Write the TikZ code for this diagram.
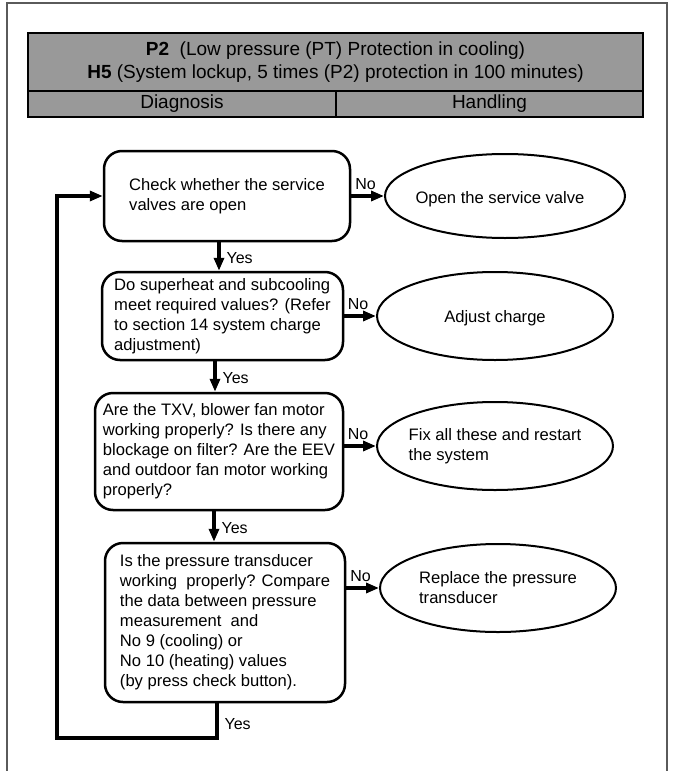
\documentclass[tikz,border=0pt]{standalone}
\usepackage{fontspec}
\setmainfont{Liberation Sans}
\usetikzlibrary{arrows.meta,shapes.geometric}
\definecolor{hgray}{RGB}{153,153,153}
\definecolor{framegray}{RGB}{90,90,90}
\begin{document}
\begin{tikzpicture}[x=1pt,y=-1pt,
  box/.style={draw,rounded corners=18pt,line width=2.5pt,align=left,
    font=\fontsize{16.6}{20}\selectfont,inner sep=0pt},
  ell/.style={draw,ellipse,line width=2pt,inner sep=0pt},
  etext/.style={align=left,font=\fontsize{16.6}{20}\selectfont,inner sep=0pt},
  flow/.style={line width=3.2pt,-{Triangle[length=13pt,width=10pt]}},
  lbl/.style={font=\fontsize{16}{18}\selectfont,inner sep=1pt},
  hcell/.style={draw,line width=2.5pt,fill=hgray,inner sep=0pt,
    font=\fontsize{19}{23}\selectfont,align=center}
]
\useasboundingbox (0,0) rectangle (674,771);
% outer frame
\draw[framegray,line width=1.2pt] (7,771) -- (7,3) -- (667,3) -- (667,771);

% header
\node[hcell,minimum width=615pt,minimum height=58pt] (title) at (335.5,62)
  {\textbf{P2}\ \ (Low pressure (PT) Protection in cooling)\\
   \textbf{H5} (System lockup, 5 times (P2) protection in 100 minutes)};
\node[hcell,minimum width=308pt,minimum height=26pt] (diag) at (182,104) {Diagnosis};
\node[hcell,minimum width=307pt,minimum height=26pt] (hand) at (489.5,104) {Handling};

% decision boxes
\node[box,minimum width=246pt,minimum height=90pt] (b1) at (227,196)
  {Check whether the service\\valves are open};
\node[box,minimum width=241pt,minimum height=88pt] (b2) at (222.5,316)
  {Do superheat and subcooling\\meet required values? (Refer\\to section 14 system charge\\adjustment)};
\node[box,minimum width=248pt,minimum height=117pt] (b3) at (219,451.5)
  {Are the TXV, blower fan motor\\working properly? Is there any\\blockage on filter? Are the EEV\\and outdoor fan motor working\\properly?};
\node[box,minimum width=240pt,minimum height=159pt] (b4) at (225,622.5)
  {Is the pressure transducer\\working\ \ properly? Compare\\the data between pressure\\measurement\ \ and\\No 9 (cooling) or\\No 10 (heating) values\\(by press check button).};

% handling ellipses
\node[ell,minimum width=240pt,minimum height=84pt] (e1) at (505,196) {};
\node[etext] (t1) at ([xshift=-5pt,yshift=-3pt]e1.center) {Open the service valve};
\node[ell,minimum width=236pt,minimum height=88pt] (e2) at (495,316) {};
\node[etext] (t2) at ([yshift=-2pt]e2.center) {Adjust charge};
\node[ell,minimum width=236pt,minimum height=88pt] (e3) at (495,446) {};
\node[etext] (t3) at (e3.center) {Fix all these and restart\\the system};
\node[ell,minimum width=236pt,minimum height=88pt] (e4) at (498,588) {};
\node[etext] (t4) at (e4.center) {Replace the pressure\\transducer};

% No connectors
\draw[flow] (b1.east) -- node[lbl,above=4pt,xshift=-2pt] {No} (e1.west);
\draw[flow] (b2.east) -- node[lbl,above=4pt,xshift=-2pt] {No} (e2.west);
\draw[flow] (b3.east |- e3.west) -- node[lbl,above=4pt,xshift=-2pt] {No} (e3.west);
\draw[flow] (b4.east |- e4.west) -- node[lbl,above=4pt,xshift=-2pt] {No} (e4.west);

% Yes connectors
\draw[flow] ([xshift=-8pt]b1.south) -- node[lbl,right=5pt,yshift=-2pt] {Yes} ([xshift=-8pt]b1.south |- b2.north);
\draw[flow] ([xshift=-7.5pt]b2.south) -- node[lbl,right=5pt,yshift=-2pt] {Yes} ([xshift=-7.5pt]b2.south |- b3.north);
\draw[flow] ([xshift=-5pt]b3.south) -- node[lbl,right=5pt,yshift=-2pt] {Yes} ([xshift=-5pt]b3.south |- b4.north);

% loop back
\coordinate (lc) at (57,738);
\draw[flow] ([xshift=-8pt]b4.south) |- node[lbl,right=5pt,pos=0.3] {Yes} (lc) |- (b1.west);
\end{tikzpicture}
\end{document}
